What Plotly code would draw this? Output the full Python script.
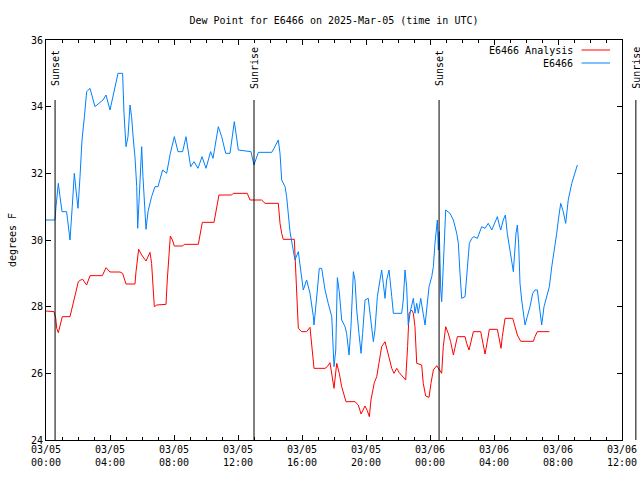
import pandas as pd
import plotly.graph_objects as go

START = pd.Timestamp("2025-03-05 00:00")
END = pd.Timestamp("2025-03-06 12:00")

# hours after 2025-03-05 00:00 UTC
red_hours = [0.0, 0.5, 0.61, 0.67, 0.77, 0.875, 1.02, 1.5, 1.6, 1.71, 1.875, 2.02, 2.17, 2.29, 2.54, 2.75,
             3.52, 3.75, 4.0, 4.625, 4.79, 5.0, 5.56, 5.625, 5.79, 5.98, 6.25, 6.5, 6.6, 6.71, 6.77, 6.92,
             7.5, 7.58, 7.67, 7.77, 7.9, 8.02, 8.54, 8.64, 9.52, 9.625, 9.77, 10.5, 10.625, 10.81, 11.6,
             11.7, 12.58, 12.75, 13.48, 13.69, 14.52, 14.625, 14.73, 14.83, 15.52, 15.61, 15.67, 15.77,
             15.98, 16.29, 16.5, 16.6, 16.75, 17.44, 17.58, 17.75, 17.86, 18.0, 18.17, 18.33, 18.48,
             18.58, 18.75, 19.31, 19.52, 19.69, 19.79, 19.94, 20.08, 20.21, 20.31, 20.42, 20.52, 20.67,
             20.83, 20.98, 21.19, 21.29, 21.46, 21.61, 21.75, 21.92, 22.08, 22.29, 22.48, 22.6, 22.69,
             22.85, 22.96, 23.06, 23.17, 23.48, 23.58, 23.73, 23.94, 24.06, 24.21, 24.42, 24.58, 24.73,
             24.83, 24.98, 25.14, 25.29, 25.46, 25.56, 25.71, 26.19, 26.29, 26.44, 26.61, 26.71, 27.17,
             27.29, 27.44, 27.58, 27.71, 28.21, 28.33, 28.44, 28.52, 28.69, 29.17, 29.31, 29.46, 29.67,
             30.46, 30.56, 30.71, 31.46]
red_vals = [27.87, 27.85, 27.65, 27.35, 27.22, 27.45, 27.7, 27.7, 27.9, 28.2, 28.5, 28.75, 28.8, 28.82, 28.65,
            28.93, 28.93, 29.17, 29.04, 29.04, 29.0, 28.68, 28.68, 29.05, 29.72, 29.55, 29.37, 29.63, 29.3,
            28.6, 28.0, 28.05, 28.07, 28.8, 29.35, 30.12, 30.0, 29.82, 29.82, 29.87, 29.87, 30.2, 30.53,
            30.53, 30.85, 31.35, 31.35, 31.4, 31.4, 31.2, 31.2, 31.1, 31.1, 30.5, 30.2, 30.02, 30.02, 29.2,
            28.3, 27.35, 27.25, 27.25, 27.38, 26.9, 26.15, 26.15, 26.2, 26.32, 26.0, 25.55, 26.3, 26.0,
            25.6, 25.4, 25.15, 25.15, 25.05, 24.78, 24.9, 25.02, 24.88, 24.7, 25.2, 25.55, 25.72, 25.9,
            26.4, 26.8, 26.95, 26.75, 26.4, 26.15, 26.0, 26.15, 26.02, 25.9, 25.8, 26.8, 27.8, 27.9, 27.8,
            27.4, 26.3, 26.25, 25.7, 25.32, 25.28, 25.7, 26.1, 26.23, 26.1, 26.0, 26.8, 27.4, 27.2, 26.95,
            26.55, 26.8, 27.1, 27.1, 26.9, 26.7, 27.05, 27.25, 27.25, 26.95, 26.58, 26.95, 27.32, 27.32,
            26.95, 26.75, 27.1, 27.65, 27.65, 27.4, 27.15, 26.96, 26.96, 27.1, 27.25, 27.25]

blue_hours = [0.0, 0.56, 0.625, 0.77, 0.875, 1.0, 1.29, 1.5, 1.64, 1.77, 1.875, 2.0, 2.125, 2.25, 2.4, 2.54,
              2.75, 2.875, 3.06, 3.56, 3.75, 4.0, 4.25, 4.5, 4.79, 4.875, 5.0, 5.125, 5.25, 5.35, 5.46,
              5.56, 5.67, 5.73, 5.83, 5.98, 6.06, 6.25, 6.375, 6.6, 6.81, 7.0, 7.29, 7.54, 7.77, 8.02,
              8.25, 8.54, 8.75, 9.04, 9.25, 9.5, 9.75, 10.0, 10.29, 10.44, 10.77, 10.98, 11.23, 11.5,
              11.77, 12.02, 12.81, 13.0, 13.27, 14.11, 14.25, 14.52, 14.625, 14.73, 14.94, 15.04, 15.25,
              15.46, 15.56, 15.77, 15.98, 16.08, 16.29, 16.5, 16.71, 16.75, 16.96, 17.08, 17.23, 17.44,
              17.64, 17.86, 18.0, 18.11, 18.21, 18.33, 18.48, 18.69, 18.79, 18.94, 19.06, 19.21, 19.31,
              19.42, 19.56, 19.69, 19.79, 19.94, 20.14, 20.25, 20.36, 20.46, 20.56, 20.71, 20.875, 20.98,
              21.08, 21.19, 21.29, 21.44, 21.61, 21.71, 22.23, 22.33, 22.44, 22.54, 22.64, 22.79, 22.96,
              23.06, 23.17, 23.27, 23.42, 23.54, 23.69, 23.79, 23.94, 24.11, 24.21, 24.31, 24.46, 24.52,
              24.58, 24.67, 24.73, 24.83, 24.98, 25.25, 25.46, 25.67, 25.77, 25.875, 25.98, 26.19, 26.29,
              26.46, 26.61, 26.75, 26.96, 27.125, 27.23, 27.44, 27.64, 27.86, 28.06, 28.21, 28.33, 28.42,
              28.58, 28.71, 28.83, 29.0, 29.1, 29.21, 29.375, 29.46, 29.54, 29.625, 29.73, 29.83, 29.94,
              30.08, 30.25, 30.42, 30.56, 30.71, 30.83, 30.98, 31.125, 31.29, 31.46, 31.61, 31.75, 31.92,
              32.02, 32.17, 32.33, 32.48, 32.64, 32.86, 33.21]
blue_vals = [30.6, 30.6, 31.0, 31.7, 31.3, 30.85, 30.85, 30.0, 31.0, 32.0, 31.5, 30.95, 31.9, 33.0, 33.7,
             34.45, 34.55, 34.3, 34.0, 34.2, 34.35, 33.9, 34.45, 35.0, 35.0, 33.8, 32.8, 33.1, 34.05, 33.7,
             33.0, 32.5, 31.6, 30.35, 31.3, 32.8, 31.9, 30.32, 30.85, 31.3, 31.6, 31.6, 32.1, 32.0, 32.6,
             33.1, 32.65, 32.65, 33.1, 32.2, 32.35, 32.15, 32.5, 32.15, 32.65, 32.45, 33.4, 33.1, 32.6,
             32.6, 33.55, 32.7, 32.65, 32.25, 32.63, 32.63, 32.75, 33.0, 32.6, 31.8, 31.6, 31.3, 30.25,
             29.7, 29.4, 29.65, 28.9, 28.5, 28.8, 28.4, 27.7, 27.45, 28.5, 29.15, 29.15, 28.5, 28.1, 27.7,
             26.2, 26.7, 28.87, 28.45, 27.6, 27.4, 27.2, 26.55, 27.4, 29.05, 28.8, 27.9, 27.2, 26.6, 27.2,
             28.2, 28.25, 27.8, 27.45, 26.95, 27.3, 28.3, 28.8, 29.1, 28.7, 28.25, 28.8, 29.1, 28.3, 27.8,
             27.8, 28.2, 29.1, 28.6, 27.45, 27.9, 28.25, 27.8, 28.1, 27.8, 28.25, 27.9, 27.45, 27.9, 28.6,
             28.9, 29.2, 29.9, 30.6, 29.7, 30.25, 28.5, 28.15, 29.2, 30.9, 30.8, 30.6, 30.2, 29.9, 29.0,
             28.25, 28.3, 28.9, 29.9, 30.05, 30.1, 30.05, 30.3, 30.4, 30.35, 30.5, 30.3, 30.55, 30.7,
             30.45, 30.3, 30.6, 30.75, 30.2, 29.7, 29.45, 29.05, 30.2, 30.45, 29.9, 28.7, 28.2, 27.75,
             27.45, 27.7, 28.0, 28.4, 28.5, 28.5, 28.0, 27.45, 28.0, 28.3, 28.6, 29.2, 29.6, 30.2, 30.6,
             31.1, 30.85, 30.5, 31.2, 31.7, 32.25]

sun_events = ["Sunset", "Sunrise", "Sunset", "Sunrise"]
sun_times = ["2025-03-05 00:34", "2025-03-05 13:00", "2025-03-06 00:34", "2025-03-06 12:52"]

series_names = ["E6466 Analysis", "E6466"]
series_colors = ["#ff0000", "#0080ff"]

FONT = "DejaVu Sans Mono"

red_x = START + pd.to_timedelta(red_hours, unit="h")
blue_x = START + pd.to_timedelta(blue_hours, unit="h")

fig = go.Figure()
fig.add_trace(go.Scatter(x=red_x, y=red_vals, mode="lines", name=series_names[0],
                         line=dict(color=series_colors[0], width=1), showlegend=False))
fig.add_trace(go.Scatter(x=blue_x, y=blue_vals, mode="lines", name=series_names[1],
                         line=dict(color=series_colors[1], width=1), showlegend=False))

span = (END - START).total_seconds()
for ev, t in zip(sun_events, sun_times):
    ts = pd.Timestamp(t)
    frac = (ts - START).total_seconds() / span
    fig.add_shape(type="line", xref="paper", yref="paper", x0=frac, x1=frac, y0=0, y1=0.85,
                  line=dict(color="black", width=1))
    fig.add_annotation(xref="paper", yref="paper", x=frac, y=0.93, text=ev, textangle=-90,
                       showarrow=False, xanchor="center", yanchor="middle", xshift=1,
                       font=dict(family=FONT, size=10, color="black"))

# custom legend (text left of line sample, like the reference)
leg_y = [0.975, 0.9425]
for name, col, yy in zip(series_names, series_colors, leg_y):
    fig.add_annotation(xref="paper", yref="paper", x=0.918, y=yy, text=name, showarrow=False,
                       xanchor="right", yanchor="middle", font=dict(family=FONT, size=10, color="black"))
    fig.add_shape(type="line", xref="paper", yref="paper", x0=0.9297, x1=0.9792, y0=yy, y1=yy,
                  line=dict(color=col, width=1))

fig.update_layout(
    width=640, height=480,
    margin=dict(l=46, r=18, t=40, b=40, autoexpand=False),
    paper_bgcolor="white", plot_bgcolor="white",
    font=dict(family=FONT, size=10, color="black"),
    title=dict(text="Dew Point for E6466 on 2025-Mar-05 (time in UTC)", x=0.5, xref="paper",
               y=1 - 20 / 480, yanchor="middle", font=dict(family=FONT, size=10)),
)
fig.update_xaxes(range=[START, END], tickformat="%m/%d<br>%H:%M", dtick=4 * 3600 * 1000,
                 tick0=START, ticks="inside", ticklen=5, tickcolor="black", showgrid=False,
                 showline=True, linecolor="black", linewidth=1, mirror="ticks", zeroline=False,
                 automargin=False,
                 minor=dict(dtick=3600 * 1000, ticks="inside", ticklen=3, tickcolor="black", showgrid=False),
                 tickfont=dict(family=FONT, size=10))
fig.update_yaxes(range=[24, 36], dtick=2, tick0=24, ticks="inside", ticklen=5, tickcolor="black",
                 showgrid=False, showline=True, linecolor="black", linewidth=1, mirror="ticks",
                 zeroline=False, automargin=False,
                 title=dict(text="degrees F", standoff=12, font=dict(family=FONT, size=10)),
                 tickfont=dict(family=FONT, size=10))

fig.write_html("out.html", config={"displayModeBar": False},
               post_script="document.body.style.margin='0';document.body.style.overflow='hidden';")
